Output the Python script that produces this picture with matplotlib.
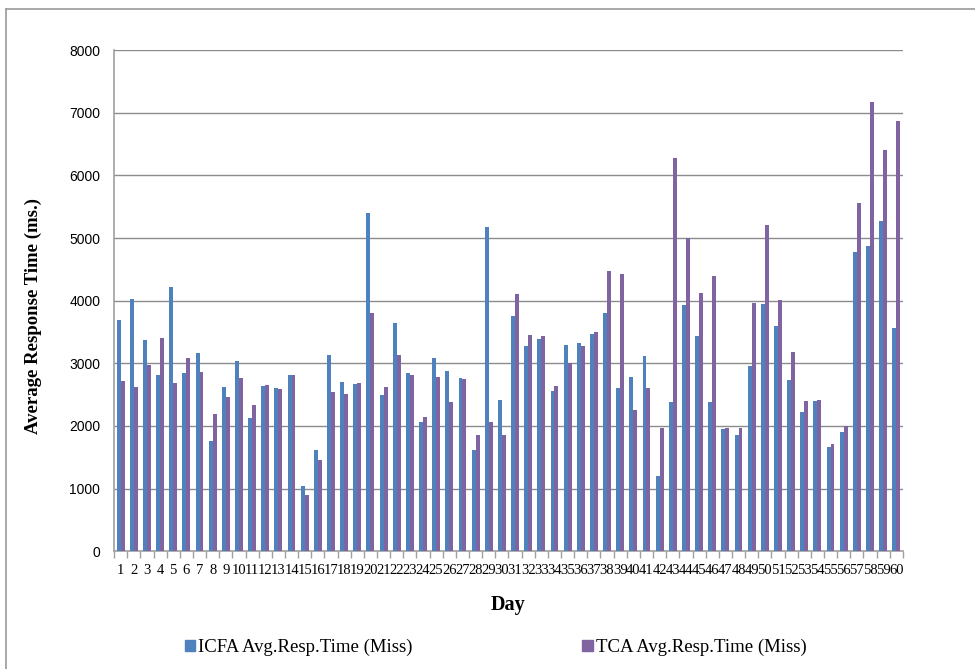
import numpy as np
import matplotlib.pyplot as plt
from matplotlib.lines import Line2D
from matplotlib.patches import Patch

# daily average response time on cache misses (ms)
days = list(range(1, 61))
icfa = [3700, 4030, 3380, 2820, 4220, 2840, 3170, 1760, 2630, 3030,
        2130, 2640, 2610, 2820, 1040, 1620, 3130, 2700, 2670, 5400,
        2500, 3640, 2840, 2060, 3080, 2870, 2770, 1610, 5170, 2420,
        3750, 3280, 3390, 2560, 3290, 3330, 3470, 3800, 2600, 2790,
        3110, 1200, 2390, 3930, 3440, 2390, 1950, 1860, 2950, 3950,
        3590, 2730, 2230, 2400, 1670, 1900, 4780, 4870, 5270, 3560]
tca = [2720, 2630, 2980, 3400, 2680, 3080, 2860, 2190, 2470, 2760,
       2330, 2650, 2590, 2820, 900, 1450, 2550, 2510, 2680, 3800,
       2630, 3130, 2810, 2140, 2780, 2380, 2750, 1850, 2060, 1850,
       4110, 3460, 3430, 2640, 3000, 3270, 3500, 4470, 4430, 2260,
       2600, 1970, 6280, 5000, 4130, 4390, 1970, 1970, 3960, 5210,
       4010, 3180, 2400, 2420, 1710, 2000, 5560, 7180, 6400, 6870]
series_names = ["ICFA Avg.Resp.Time (Miss)", "TCA Avg.Resp.Time (Miss)"]

blue = "#4F81BD"
purple = "#8064A2"
grid_grey = "#8c8c8c"

fig = plt.figure(figsize=(9.75, 6.69), dpi=100)
ax = fig.add_axes([0.117, 0.176, 0.809, 0.749])

x = np.array(days)
w = 0.3
ax.bar(x - w / 2, icfa, width=w, color=blue, zorder=3)
ax.bar(x + w / 2, tca, width=w, color=purple, zorder=3)

ax.set_xlim(0.5, 60.5)
ax.set_ylim(0, 8000)
ax.set_yticks(range(0, 8001, 1000))
ax.yaxis.grid(True, color=grid_grey, linewidth=1)
ax.set_axisbelow(True)

for side in ("top", "right"):
    ax.spines[side].set_visible(False)
for side in ("left", "bottom"):
    ax.spines[side].set_color("#a0a0a0")
    ax.spines[side].set_linewidth(1.2)

# labels at category centres, tick marks on category boundaries
ax.set_xticks(x)
ax.set_xticklabels([str(d) for d in days], family="Liberation Serif", fontsize=10.5)
ax.set_xticks(np.arange(0.5, 61, 1), minor=True)
ax.tick_params(axis="x", which="major", length=0, pad=9)
ax.tick_params(axis="x", which="minor", length=5, color="#a0a0a0", width=1)
ax.tick_params(axis="y", length=0, pad=10)
for lab in ax.get_yticklabels():
    lab.set_family("Liberation Sans")
    lab.set_fontsize(10)

ax.set_ylabel("Average Response Time (ms.)", family="Liberation Serif",
              fontweight="bold", fontsize=13.5)
ax.yaxis.set_label_coords(-0.092, 0.47)
ax.set_xlabel("Day", family="Liberation Serif", fontweight="bold", fontsize=14.5)
ax.xaxis.set_label_coords(0.5, -0.108)
ax.xaxis.label.set_va("center")

# one legend entry at each position along the bottom
for name, col, xpos in [(series_names[0], blue, 0.172), (series_names[1], purple, 0.58)]:
    fig.legend(handles=[Patch(color=col, label=name)], loc="center left",
               bbox_to_anchor=(xpos, 0.032), frameon=False,
               handlelength=0.55, handleheight=0.55, handletextpad=0.15,
               prop={"family": "Liberation Serif", "size": 13.5})

# chart border
fig.add_artist(Line2D([0.0065, 0.0065], [0, 0.9865], transform=fig.transFigure,
                      color="#9a9a9a", linewidth=1.2))
fig.add_artist(Line2D([0.0065, 1.0], [0.9865, 0.9865], transform=fig.transFigure,
                      color="#9a9a9a", linewidth=1.2))

fig.savefig("out.png", dpi=100)
